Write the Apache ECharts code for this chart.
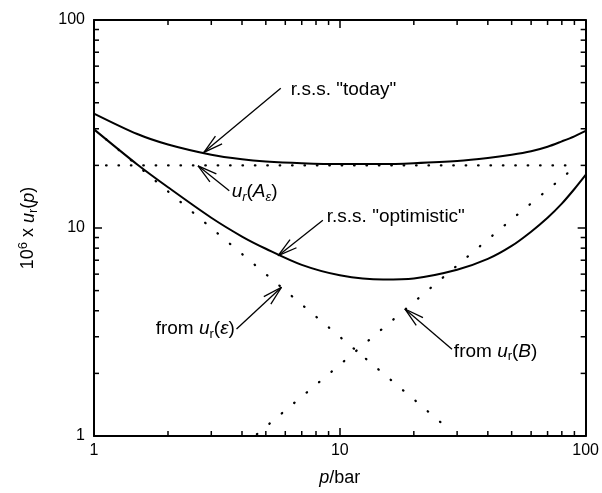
<!DOCTYPE html>
<html><head><meta charset="utf-8">
<script src="https://cdn.jsdelivr.net/npm/echarts@6/dist/echarts.min.js"></script>
<style>html,body{margin:0;padding:0;background:#fff}#c{width:602px;height:493px}</style>
</head><body><div id="c"></div>
<script>
// ---- data (p in bar, values are 10^6 x u_r) ----
const pressure      = [1, 1.5, 2, 3, 4, 5, 7, 10, 15, 20, 30, 40, 50, 60, 70, 80, 90, 100];
const rssToday      = [35.5, 28.3, 25.2, 22.5, 21.4, 20.9, 20.5, 20.3, 20.3, 20.5, 21.0, 21.7, 22.5, 23.4, 24.6, 26.1, 27.6, 29.3];
const rssOptimistic = [29.8, 20.2, 15.7, 11.2, 9.1, 7.95, 6.65, 5.93, 5.65, 5.72, 6.3, 7.1, 8.2, 9.6, 11.2, 13.1, 15.4, 18.0];
const uA_p   = [1.12, 10, 92];
const uA_v   = [20, 20, 20];
const uEps_p = [1.12, 2, 5, 10, 20, 28.2];
const uEps_v = [26.7, 15, 6, 3, 1.5, 1.06];
const uB_p   = [4.6, 10, 20, 50, 83, 92];
const uB_v   = [1.02, 2.2, 4.4, 11, 18, 20.2];
const xTickLabels = [1, 10, 100];
const yTickLabels = [1, 10, 100];
const minorTicks  = [2, 3, 4, 5, 6, 7, 8, 9, 20, 30, 40, 50, 60, 70, 80, 90];

// annotations: arrow tip, arrow tail, text anchor (data coordinates)
const annotations = [
  {text: '{t|r.s.s. "today"}', tip: [2.80, 23.1], tail: [5.75, 47.0], at: [6.32, 46.4], align: 'left'},
  {text: '{i|u}{subi|r}{t|(}{i|A}{subi|ε}{t|)}', tip: [2.65, 19.9], tail: [3.55, 15.1], at: [3.63, 14.9], align: 'left'},
  {text: '{t|r.s.s. "optimistic"}', tip: [5.61, 7.36], tail: [8.53, 10.9], at: [8.85, 11.3], align: 'left'},
  {text: '{t|from }{i|u}{sub|r}{t|(}{i|ε}{t|)}', tip: [5.79, 5.19], tail: [3.8, 3.27], at: [3.74, 3.27], align: 'right'},
  {text: '{t|from }{i|u}{sub|r}{t|(}{i|B}{t|)}', tip: [18.4, 4.08], tail: [28.6, 2.61], at: [29.1, 2.54], align: 'left'}
];

const FF = '"Liberation Sans", Arial, Helvetica, sans-serif';
const zip = (a, b) => a.map((x, i) => [x, b[i]]);

function richStyles(fs) {
  return {
    t:    {fontSize: fs, fontFamily: FF, color: '#000', verticalAlign: 'middle'},
    i:    {fontSize: fs, fontFamily: FF, fontStyle: 'italic', color: '#000', verticalAlign: 'middle'},
    sub:  {fontSize: Math.round(fs * 0.7), fontFamily: FF, color: '#000', verticalAlign: 'middle', padding: [10, 0, 0, 0]},
    subi: {fontSize: Math.round(fs * 0.7), fontFamily: FF, fontStyle: 'italic', color: '#000', verticalAlign: 'middle', padding: [10, 0, 0, 0]},
    sup:  {fontSize: Math.round(fs * 0.7), fontFamily: FF, color: '#000', verticalAlign: 'middle', padding: [0, 0, 10, 0]}
  };
}

const axisCommon = {
  type: 'log', logBase: 10, min: 1, max: 100,
  axisLine: {show: true, lineStyle: {color: '#000', width: 2}},
  axisTick: {show: true, inside: true, length: 8, lineStyle: {color: '#000', width: 1.5}},
  splitLine: {show: false},
  minorTick: {show: false}
};

const dotted = (sp) => ({color: '#000', width: 2.3, type: [0.5, sp], cap: 'round'});

const chart = echarts.init(document.getElementById('c'), null, {renderer: 'canvas'});
const option = {
  animation: false,
  backgroundColor: '#fff',
  grid: {left: 94, right: 16, top: 20, bottom: 57, containLabel: false},
  xAxis: [
    Object.assign({}, axisCommon, {
      position: 'bottom',
      axisLabel: {color: '#000', fontSize: 16, fontFamily: FF, margin: 7,
        formatter: v => xTickLabels.includes(Math.round(v)) ? String(Math.round(v)) : ''},
      name: '{i|p}{t|/bar}', nameLocation: 'middle', nameGap: 33,
      nameTextStyle: {rich: richStyles(18)}
    }),
    Object.assign({}, axisCommon, {position: 'top', axisLabel: {show: false}})
  ],
  yAxis: [
    Object.assign({}, axisCommon, {
      position: 'left',
      axisLabel: {color: '#000', fontSize: 16, fontFamily: FF, margin: 9,
        formatter: v => yTickLabels.includes(Math.round(v)) ? String(Math.round(v)) : ''},
      name: '{t|10}{sup|6}{t| x }{i|u}{sub|r}{t|(}{i|p}{t|)}', nameLocation: 'middle', nameGap: 54,
      nameTextStyle: {rich: richStyles(18)}
    }),
    Object.assign({}, axisCommon, {position: 'right', axisLabel: {show: false}})
  ],
  series: [
    {name: 'rss today', type: 'line', data: zip(pressure, rssToday), smooth: 0.3, symbol: 'none',
      lineStyle: {color: '#000', width: 2}},
    {name: 'rss optimistic', type: 'line', data: zip(pressure, rssOptimistic), smooth: 0.3, symbol: 'none',
      lineStyle: {color: '#000', width: 2}},
    {name: 'u_r(A_eps)', type: 'line', data: zip(uA_p, uA_v), symbol: 'none', lineStyle: dotted(11.9)},
    {name: 'from u_r(eps)', type: 'line', data: zip(uEps_p, uEps_v), symbol: 'none', lineStyle: dotted(15.7)},
    {name: 'from u_r(B)', type: 'line', data: zip(uB_p, uB_v), symbol: 'none', lineStyle: dotted(15.7)},
    {name: 'minor x ticks', type: 'custom', silent: true, data: minorTicks.map(v => [v, 1]),
      renderItem: (params, api) => {
        const v = api.value(0);
        const b = api.coord([v, 1]), t = api.coord([v, 100]);
        const st = {stroke: '#000', lineWidth: 1.5};
        return {type: 'group', children: [
          {type: 'line', shape: {x1: b[0], y1: b[1], x2: b[0], y2: b[1] - 5}, style: st},
          {type: 'line', shape: {x1: t[0], y1: t[1], x2: t[0], y2: t[1] + 5}, style: st}
        ]};
      }},
    {name: 'minor y ticks', type: 'custom', silent: true, data: minorTicks.map(v => [1, v]),
      renderItem: (params, api) => {
        const v = api.value(1);
        const l = api.coord([1, v]), r = api.coord([100, v]);
        const st = {stroke: '#000', lineWidth: 1.5};
        return {type: 'group', children: [
          {type: 'line', shape: {x1: l[0], y1: l[1], x2: l[0] + 5, y2: l[1]}, style: st},
          {type: 'line', shape: {x1: r[0], y1: r[1], x2: r[0] - 5, y2: r[1]}, style: st}
        ]};
      }}
  ]
};
chart.setOption(option);

// annotation arrows placed through the chart's own coordinate conversion
const toPx = d => chart.convertToPixel({seriesIndex: 0}, d);
const graphics = [];
const armLen = 20, armAng = 15 * Math.PI / 180;
annotations.forEach(a => {
  const T = toPx(a.tip), S = toPx(a.tail), P = toPx(a.at);
  const dx = S[0] - T[0], dy = S[1] - T[1], L = Math.hypot(dx, dy);
  const ux = dx / L, uy = dy / L;
  const st = {stroke: '#000', lineWidth: 1.3};
  graphics.push({type: 'line', silent: true, shape: {x1: T[0], y1: T[1], x2: S[0], y2: S[1]}, style: st});
  [armAng, -armAng].forEach(th => {
    const rx = ux * Math.cos(th) - uy * Math.sin(th), ry = ux * Math.sin(th) + uy * Math.cos(th);
    graphics.push({type: 'line', silent: true,
      shape: {x1: T[0], y1: T[1], x2: T[0] + armLen * rx, y2: T[1] + armLen * ry}, style: st});
  });
  graphics.push({type: 'text', silent: true, x: P[0], y: P[1],
    style: {text: a.text, rich: richStyles(19), align: a.align, verticalAlign: 'middle',
      fontSize: 19, fontFamily: FF, fill: '#000'}});
});
chart.setOption({graphic: graphics});
</script>
</body></html>
